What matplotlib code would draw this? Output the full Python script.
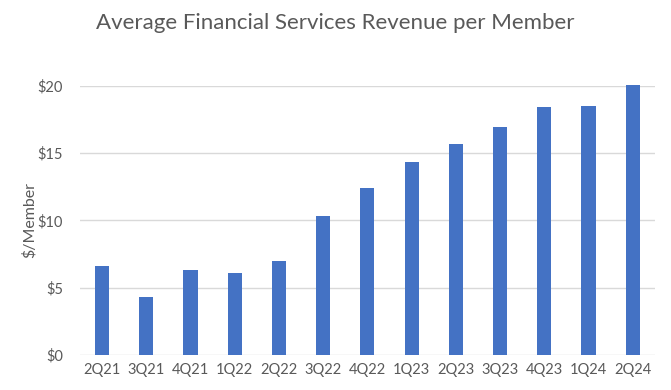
import matplotlib.pyplot as plt
import matplotlib.ticker as mticker

quarters = ['2Q21', '3Q21', '4Q21', '1Q22', '2Q22', '3Q22', '4Q22',
            '1Q23', '2Q23', '3Q23', '4Q23', '1Q24', '2Q24']
revenue = [6.62, 4.31, 6.32, 6.10, 6.99, 10.33, 12.42,
           14.35, 15.69, 16.95, 18.44, 18.51, 20.07]

plt.rcParams['font.family'] = ['Lato', 'DejaVu Sans']
text_col = '#595959'

fig = plt.figure(figsize=(6.71, 3.90), dpi=100)
ax = fig.add_axes([0.119, 0.0897, 0.857, 0.690])

ax.bar(range(len(quarters)), revenue, width=0.32, color='#4472C4', clip_on=False, zorder=3)

ax.set_xlim(-0.5, len(quarters) - 0.5)
ax.set_ylim(0, 20)
ax.set_yticks([0, 5, 10, 15, 20])
ax.yaxis.set_major_formatter(mticker.FuncFormatter(lambda v, p: '$%d' % v))
ax.set_xticks(range(len(quarters)))
ax.set_xticklabels(quarters)
ax.grid(axis='y', color='#d9d9d9', linewidth=1, zorder=0)
for s in ax.spines.values():
    s.set_visible(False)
ax.tick_params(length=0, labelsize=10.5, colors=text_col, pad=6)
ax.tick_params(axis='y', pad=12)

ax.set_ylabel('$/Member', fontsize=11.5, color=text_col, labelpad=1)
fig.text(0.5, 0.94, 'Average Financial Services Revenue per Member',
         ha='center', va='center', fontsize=16, color=text_col)

fig.savefig('out.png', dpi=100)
